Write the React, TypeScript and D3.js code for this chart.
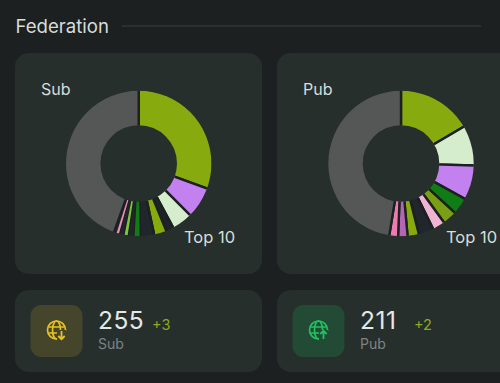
import React from "react";
import * as d3 from "d3";

const title = "Federation";
const topLabel = "Top 10";

const subLabel = "Sub";
const subValues = [110, 25, 16.5, 6, 10, 11.5, 4, 5.5, 2.4, 4.6, 1.8, 2.2, 160];
const subColors = ["#87aa0e", "#c281ee", "#d5edcd", "#1f2329", "#87aa0e", "#21252c", "#0f7d14", "#21252c", "#7fc43a", "#21252c", "#e58fb9", "#21252c", "#545756"];

const pubLabel = "Pub";
const pubValues = [59.8, 32, 27.5, 13.5, 11.5, 10, 12, 9, 7.5, 7, 171.2];
const pubColors = ["#87aa0e", "#d5edcd", "#c281ee", "#0f7d14", "#7a9f14", "#f0b3d4", "#21252c", "#87aa0e", "#b565b8", "#ee7cb0", "#545756"];

const statCards = [
  { label: "Sub", value: "255", delta: "+3", tile: "#45452c", icon: "#e6c31f", up: false },
  { label: "Pub", value: "211", delta: "+2", tile: "#234a34", icon: "#20c262", up: true },
];

const FONT = "Inter, 'Noto Sans', sans-serif";
const PAGE = "#1c2020";
const CARD = "#272f2d";
const R = 72.7;
const r = 38.3;
const NARROW = 4.5;

function Donut({ id, cx, cy, values, colors }: { id: string; cx: number; cy: number; values: number[]; colors: string[] }) {
  const pie = d3.pie<number>().sort(null).value((d) => d);
  // Slices overshoot the ring a little; the clip trims them, so strokes only show between slices.
  const arc = d3.arc<d3.PieArcDatum<number>>().innerRadius(r - 4).outerRadius(R + 4);
  const ring = d3.arc()({ innerRadius: r, outerRadius: R, startAngle: 0, endAngle: Math.PI * 2 }) as string;
  const arcs = pie(values).map((d, i) => ({ d, color: colors[i] }));
  const wide = arcs.filter((a) => a.d.value > NARROW);
  const narrow = arcs.filter((a) => a.d.value <= NARROW && a.color !== "#21252c");
  return (
    <g transform={`translate(${cx},${cy})`}>
      <clipPath id={id}><path d={ring} /></clipPath>
      <g clipPath={`url(#${id})`}>
        {arcs.filter((a) => a.d.value <= NARROW && a.color === "#21252c").map((a, i) => (
          <path key={`n${i}`} d={arc(a.d) as string} fill={a.color} />
        ))}
        {wide.map((a, i) => (
          <path key={i} d={arc(a.d) as string} fill={a.color} stroke={PAGE} strokeWidth={2.4} />
        ))}
        {narrow.map((a, i) => (
          <path key={`t${i}`} d={arc(a.d) as string} fill={a.color} />
        ))}
      </g>
    </g>
  );
}

function Globe({ x, y, color, tile, up }: { x: number; y: number; color: string; tile: string; up: boolean }) {
  const rad = 9;
  const ay = up ? -1 : 1;
  const ax = 5;
  const ac = 5;
  return (
    <g transform={`translate(${x},${y})`} fill="none" stroke={color} strokeWidth={1.7}>
      <circle r={rad} />
      <ellipse rx={4} ry={rad} />
      <path d={`M${-rad + 1},-3H${rad - 1}M${-rad + 1},3H${rad - 1}`} />
      <path d={`M${ax - 4.5},${ac - 5}h9v10.5h-9z`} fill={tile} stroke="none" />
      <path
        d={`M${ax},${ac - 4 * ay}V${ac + 4 * ay}M${ax - 3.2},${ac + 1 * ay}L${ax},${ac + 4.2 * ay}L${ax + 3.2},${ac + 1 * ay}`}
        strokeWidth={1.8}
      />
    </g>
  );
}

export default function App() {
  return (
    <svg
      width={500}
      height={383}
      viewBox="0 0 500 383"
      style={{ position: "fixed", left: 0, top: 0, display: "block", background: PAGE }}
      fontFamily={FONT}
    >
      <rect width={500} height={383} fill={PAGE} />
      <text x={15.5} y={33} fontSize={18.6} fill="#d8dcda">{title}</text>
      <line x1={122} x2={481} y1={26} y2={26} stroke="#3b403f" strokeWidth={1} />

      <rect x={15} y={53} width={247} height={221} rx={14} fill={CARD} />
      <rect x={277} y={53} width={247} height={221} rx={14} fill={CARD} />
      <text x={41} y={95} fontSize={16} fill="#d8dcda">{subLabel}</text>
      <text x={303} y={95} fontSize={16} fill="#d8dcda">{pubLabel}</text>
      <Donut id="sub" cx={138.7} cy={163.5} values={subValues} colors={subColors} />
      <Donut id="pub" cx={401} cy={163.5} values={pubValues} colors={pubColors} />
      <text x={184} y={243} fontSize={16.5} fill="#d8dcda">{topLabel}</text>
      <text x={446} y={243} fontSize={16.5} fill="#d8dcda">{topLabel}</text>

      {statCards.map((c, i) => {
        const dx = i * 262;
        return (
          <g key={c.label} transform={`translate(${dx},0)`}>
            <rect x={15} y={290} width={247} height={82} rx={14} fill={CARD} />
            <rect x={30.5} y={305} width={52} height={52} rx={11} fill={c.tile} />
            <Globe x={56.5} y={330} color={c.icon} tile={c.tile} up={c.up} />
            <text x={98} y={329} fontSize={24.5} fill="#e4e8e6" letterSpacing={0.5}>{c.value}</text>
            <text x={152} y={330} fontSize={14.5} fill="#8cab1c">{c.delta}</text>
            <text x={98} y={349} fontSize={14} fill="#7d8482">{c.label}</text>
          </g>
        );
      })}
    </svg>
  );
}
